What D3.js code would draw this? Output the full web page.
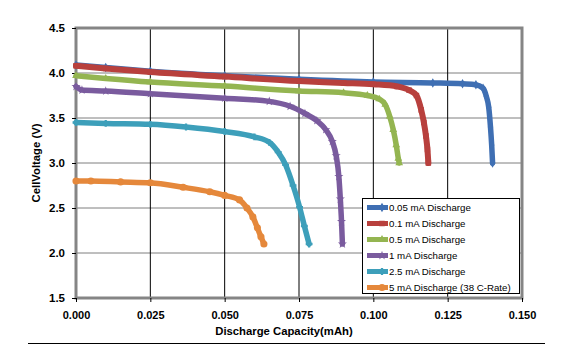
<!DOCTYPE html>
<html><head><meta charset="utf-8">
<script src="https://cdn.jsdelivr.net/npm/d3@7"></script>
<style>body{margin:0;background:#fff}svg{display:block;font-family:"Liberation Sans",Arial,sans-serif}</style>
</head><body><svg id="c" width="578" height="355"></svg>
<script>
const seriesNames = ["0.05 mA Discharge","0.1 mA Discharge","0.5 mA Discharge","1 mA Discharge","2.5 mA Discharge","5 mA Discharge (38 C-Rate)"];
const seriesColors = ["#3f6fb3","#b8403d","#94b551","#7a5b9e","#3d9fba","#e5883b"];
const seriesSymbols = ["diamond","square","triangle","star","cross","circle"];

const x005 = [0,0.01,0.025,0.05,0.075,0.1,0.12,0.13,0.1345,0.1369,0.1380,0.1388,0.1394,0.1398,0.1401];
const y005 = [4.09,4.06,4.02,3.97,3.93,3.90,3.89,3.88,3.87,3.83,3.74,3.62,3.40,3.20,3.00];
const x01 = [0,0.01,0.025,0.05,0.075,0.09,0.1,0.108,0.112,0.1145,0.1161,0.117,0.1177,0.1182,0.1185];
const y01 = [4.08,4.05,4.01,3.96,3.91,3.89,3.875,3.85,3.81,3.75,3.59,3.45,3.30,3.15,3.00];
const x05 = [0,0.01,0.025,0.05,0.075,0.09,0.098,0.102,0.104,0.1055,0.1067,0.1077,0.1084,0.1087];
const y05 = [3.97,3.94,3.90,3.855,3.80,3.78,3.75,3.71,3.65,3.52,3.37,3.20,3.05,3.00];
const x1 = [0,0.002,0.01,0.025,0.05,0.065,0.072,0.077,0.081,0.084,0.0862,0.0875,0.0884,0.0889,0.0893,0.0896];
const y1 = [3.85,3.81,3.80,3.77,3.72,3.685,3.63,3.55,3.47,3.37,3.24,3.08,2.85,2.60,2.35,2.10];
const x25 = [0,0.01,0.025,0.037,0.05,0.06,0.065,0.068,0.0705,0.073,0.0752,0.0768,0.0784];
const y25 = [3.45,3.44,3.43,3.40,3.35,3.29,3.23,3.12,2.98,2.75,2.51,2.30,2.10];
const x5 = [0,0.005,0.015,0.025,0.036,0.045,0.050,0.055,0.0575,0.0595,0.061,0.0622,0.0632];
const y5 = [2.80,2.80,2.79,2.78,2.73,2.68,2.64,2.59,2.50,2.40,2.28,2.18,2.10];

const xTicks = [0,0.025,0.05,0.075,0.1,0.125,0.15];
const xTickLabels = ["0.000","0.025","0.050","0.075","0.100","0.125","0.150"];
const yTicks = [1.5,2.0,2.5,3.0,3.5,4.0,4.5];
const yTickLabels = ["1.5","2.0","2.5","3.0","3.5","4.0","4.5"];

const seriesX = [x005,x01,x05,x1,x25,x5];
const seriesY = [y005,y01,y05,y1,y25,y5];

const svg = d3.select("#c");
const L=76,R=522,T=28,B=298;
const x = d3.scaleLinear().domain([0,0.15]).range([L,R]);
const y = d3.scaleLinear().domain([1.5,4.5]).range([B,T]);

// gridlines
svg.append("g").selectAll("line").data(yTicks.slice(1,-1)).join("line")
  .attr("x1",L).attr("x2",R).attr("y1",d=>y(d)).attr("y2",d=>y(d))
  .attr("stroke","#7f7f7f").attr("stroke-width",1);
svg.append("g").selectAll("line").data(xTicks.slice(1,-1)).join("line")
  .attr("x1",d=>x(d)).attr("x2",d=>x(d)).attr("y1",T).attr("y2",B)
  .attr("stroke","#000").attr("stroke-width",1);

// frame
svg.append("rect").attr("x",L).attr("y",T).attr("width",R-L).attr("height",B-T)
  .attr("fill","none").attr("stroke","#858585").attr("stroke-width",3);

// axes
const xAxis = d3.axisBottom(x).tickValues(xTicks).tickFormat((d,i)=>xTickLabels[i]).tickSize(4).tickPadding(9);
const gx = svg.append("g").attr("transform",`translate(0,${B})`).call(xAxis);
const yAxis = d3.axisLeft(y).tickValues(yTicks).tickFormat((d,i)=>yTickLabels[i]).tickSize(4).tickPadding(7);
const gy = svg.append("g").attr("transform",`translate(${L},0)`).call(yAxis);
[gx,gy].forEach(g=>{
  g.select(".domain").remove();
  g.selectAll(".tick line").attr("stroke","#000");
  g.selectAll(".tick text").attr("font-family","Liberation Sans, Arial, sans-serif")
   .attr("font-weight","bold").attr("font-size","11px").attr("fill","#000");
});
gy.selectAll(".tick text").attr("font-size","11.5px");

// series
const symMap = {diamond:d3.symbolDiamond,square:d3.symbolSquare,triangle:d3.symbolTriangle,star:d3.symbolStar,cross:d3.symbolCross,circle:d3.symbolCircle};
const symSize = [26,30,26,26,26,40];
const line = d3.line().x(d=>x(d[0])).y(d=>y(d[1])).curve(d3.curveMonotoneX);
seriesX.forEach((xs,i)=>{
  const pts = xs.map((v,j)=>[v,seriesY[i][j]]);
  const g = svg.append("g");
  g.append("path").datum(pts).attr("d",line).attr("fill","none")
    .attr("stroke",seriesColors[i]).attr("stroke-width",i===1?6:5.5)
    .attr("stroke-linejoin","round").attr("stroke-linecap","round");
  g.selectAll("path.m").data(pts).join("path").attr("class","m")
    .attr("transform",d=>`translate(${x(d[0])},${y(d[1])})`)
    .attr("d",d3.symbol().type(symMap[seriesSymbols[i]]).size(symSize[i]))
    .attr("fill",seriesColors[i]);
});

// legend
const lg = svg.append("g");
lg.append("rect").attr("x",362.5).attr("y",198.5).attr("width",157).attr("height",95)
  .attr("fill","#fff").attr("stroke","#000").attr("stroke-width",1);
seriesNames.forEach((n,i)=>{
  const yy = 207.5 + i*16;
  lg.append("line").attr("x1",367).attr("x2",388).attr("y1",yy).attr("y2",yy)
    .attr("stroke",seriesColors[i]).attr("stroke-width",5);
  lg.append("path").attr("transform",`translate(382,${yy})`)
    .attr("d",d3.symbol().type(symMap[seriesSymbols[i]]).size(symSize[i])).attr("fill",seriesColors[i]);
  lg.append("text").attr("x",389).attr("y",yy+3.6).attr("font-size","9.7px").attr("fill","#000").text(n);
});

// axis titles
svg.append("text").attr("x",284).attr("y",335).attr("text-anchor","middle")
  .attr("font-weight","bold").attr("font-size","11.3px").text("Discharge Capacity(mAh)");
svg.append("text").attr("transform","translate(40,163) rotate(-90)").attr("text-anchor","middle")
  .attr("font-weight","bold").attr("font-size","11.3px").text("CellVoltage (V)");

// bottom rule
svg.append("line").attr("x1",28).attr("x2",545).attr("y1",343.5).attr("y2",343.5).attr("stroke","#000");
</script>
</body></html>
